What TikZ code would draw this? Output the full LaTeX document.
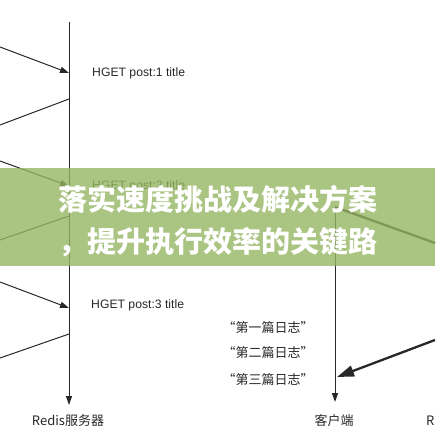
\documentclass[tikz,border=0pt]{standalone}
\usepackage{fontspec}
\setmainfont{Liberation Sans}
\newfontfamily\cjk{Noto Sans CJK SC}
\usetikzlibrary{arrows.meta}
\definecolor{ln}{RGB}{40,40,40}
\definecolor{band}{RGB}{149,181,99}
\begin{document}
\begin{tikzpicture}[x=1pt,y=-1pt,
  thinline/.style={draw=ln, line width=1pt},
  tipA/.style={-{Triangle[length=9pt,width=6pt]}},
  thickarrow/.style={draw=ln, line width=2.3pt, -{Triangle[length=17pt,width=11pt]}},
  hget/.style={font=\fontsize{12.2}{14}\selectfont, anchor=west, text=ln, inner sep=0pt},
  cn/.style={font=\cjk\fontsize{13}{15}\selectfont, text=ln, inner sep=0pt},
  bandtext/.style={font=\cjk\bfseries\fontsize{29}{32}\selectfont, text=white, inner sep=0pt}]
\useasboundingbox (0,0) rectangle (435,435);
% life lines
\coordinate (s0) at (69,22);
\coordinate (s1) at (69,405);
\coordinate (k0) at (335,207);
\coordinate (k1) at (335,402);
\draw[thinline, tipA] (s0) -- (s1);
\draw[thinline, tipA] (k0) -- (k1);
% request / reply lines on the server side
\coordinate (a1) at (0,47);   \coordinate (b1) at (69,73);
\coordinate (b2) at (69,99);  \coordinate (a2) at (0,125);
\coordinate (a3) at (0,161);  \coordinate (b3) at (69,186);
\coordinate (b4) at (69,216); \coordinate (a4) at (0,240);
\coordinate (a5) at (0,282);  \coordinate (b5) at (69,308);
\coordinate (b6) at (69,334); \coordinate (a6) at (0,358);
\draw[thinline, tipA] (a1) -- (b1);
\draw[thinline] (b2) -- (a2);
\draw[thinline, tipA] (a3) -- (b3);
\draw[thinline] (b4) -- (a4);
\draw[thinline, tipA] (a5) -- (b5);
\draw[thinline] (b6) -- (a6);
\node[hget] (h1) at (92,73) {HGET post:1 title};
\node[hget] (h2) at (92,186) {HGET post:2 title};
\node[hget] (h3) at (91,305) {HGET post:3 title};
% client side
\coordinate (r1) at (435,243);
\coordinate (r2) at (435,340);
\coordinate (k2) at (337,377);
\draw[draw=ln, line width=2.3pt] (k0) -- (r1);
\draw[thickarrow] (r2) -- (k2);
\node[cn] (l1) at (268,328) {“第一篇日志”};
\node[cn] (l2) at (268,353) {“第二篇日志”};
\node[cn] (l3) at (268,380) {“第三篇日志”};
\node[cn] (redis) at (68,421) {Redis服务器};
\node[cn] (client) at (334,421) {客户端};
\node[cn, anchor=west] (redis2) at (426,421) {R};
% banner
\fill[band, fill opacity=0.8] (0,168) rectangle (435,266);
\node[bandtext] (t1) at (217.5,199) {落实速度挑战及解决方案};
\node[bandtext] (t2) at (217.5,242) {，提升执行效率的关键路};
\end{tikzpicture}
\end{document}
